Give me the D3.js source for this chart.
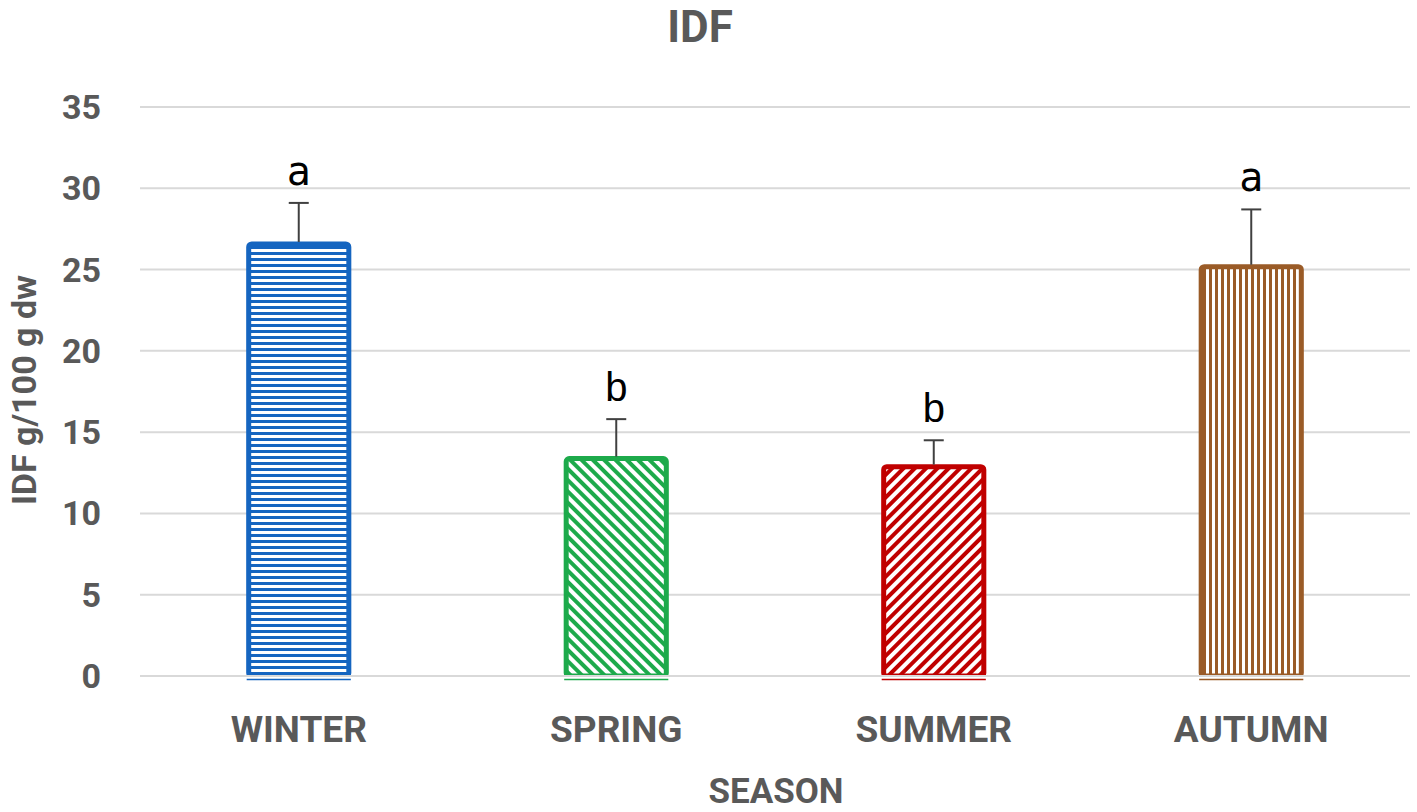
<!DOCTYPE html>
<html>
<head>
<meta charset="utf-8">
<script src="https://cdn.jsdelivr.net/npm/d3@7"></script>
<style>
  body { margin: 0; background: #fff; }
  text { font-family: Roboto, "Liberation Sans", sans-serif; }
</style>
</head>
<body>
<script>
var w = 1417;
var h = 812;

var seasons = ["WINTER", "SPRING", "SUMMER", "AUTUMN"];
var means = [26.7, 13.5, 13.0, 25.3];
var errors = [2.4, 2.3, 1.5, 3.4];
var letters = ["a", "b", "b", "a"];
var colors = ["#1565c0", "#1daa4b", "#c00000", "#9a5b27"];
var yTicks = [0, 5, 10, 15, 20, 25, 30, 35];

var margin = { top: 107, right: 7, bottom: 136, left: 140 };

var xScale = d3
  .scaleBand()
  .domain(seasons)
  .range([margin.left, w - margin.right])
  .paddingInner(0.672)
  .paddingOuter(0.336);

var yScale = d3
  .scaleLinear()
  .domain([0, 35])
  .range([h - margin.bottom, margin.top]);

var svg = d3.select("body").append("svg").attr("width", w).attr("height", h);

//Patterns
var defs = svg.append("defs");
function stripePattern(id, color, size, angle, lineW) {
  var p = defs
    .append("pattern")
    .attr("id", id)
    .attr("patternUnits", "userSpaceOnUse")
    .attr("width", size)
    .attr("height", size)
    .attr("patternTransform", "rotate(" + angle + ")");
  p.append("rect").attr("width", size).attr("height", size).attr("fill", "#fff");
  p.append("rect").attr("width", size).attr("height", lineW).attr("fill", color);
}
stripePattern("p0", colors[0], 6, 0, 3);
stripePattern("p1", colors[1], 8, 45, 4);
stripePattern("p2", colors[2], 8, -45, 4);
stripePattern("p3", colors[3], 6, 90, 3);

//Gridlines
svg
  .selectAll("line.grid")
  .data(yTicks)
  .enter()
  .append("line")
  .attr("class", "grid")
  .attr("x1", margin.left)
  .attr("x2", w - margin.right)
  .attr("y1", function (d) { return yScale(d); })
  .attr("y2", function (d) { return yScale(d); })
  .attr("stroke", "#d9d9d9")
  .attr("stroke-width", 2);

//Y tick labels
svg
  .selectAll("text.ytick")
  .data(yTicks)
  .enter()
  .append("text")
  .attr("class", "ytick")
  .attr("x", 101)
  .attr("y", function (d) { return yScale(d) + 12; })
  .attr("text-anchor", "end")
  .attr("font-size", "34px")
  .attr("font-weight", "bold")
  .attr("fill", "#595959")
  .text(function (d) { return d; });

//Bars
svg
  .selectAll("rect.bar")
  .data(seasons)
  .enter()
  .append("rect")
  .attr("class", "bar")
  .attr("x", function (d) { return xScale(d) + 2; })
  .attr("y", function (d, i) { return yScale(means[i]) + 2; })
  .attr("width", xScale.bandwidth() - 4)
  .attr("height", function (d, i) { return yScale(0) - yScale(means[i]) - 2; })
  .attr("rx", 3)
  .attr("fill", function (d, i) { return "url(#p" + i + ")"; })
  .attr("stroke", function (d, i) { return colors[i]; })
  .attr("stroke-width", 5);

//Baseline under bars
svg
  .selectAll("line.base")
  .data(seasons)
  .enter()
  .append("line")
  .attr("x1", function (d) { return xScale(d); })
  .attr("x2", function (d) { return xScale(d) + xScale.bandwidth(); })
  .attr("y1", yScale(0) + 2)
  .attr("y2", yScale(0) + 2)
  .attr("stroke", "#fff")
  .attr("stroke-width", 3);
svg
  .append("line")
  .attr("x1", margin.left)
  .attr("x2", w - margin.right)
  .attr("y1", yScale(0))
  .attr("y2", yScale(0))
  .attr("stroke", "#d9d9d9")
  .attr("stroke-width", 2);
svg
  .selectAll("line.base2")
  .data(seasons)
  .enter()
  .append("line")
  .attr("x1", function (d) { return xScale(d); })
  .attr("x2", function (d) { return xScale(d) + xScale.bandwidth(); })
  .attr("y1", yScale(0) + 3.5)
  .attr("y2", yScale(0) + 3.5)
  .attr("stroke", function (d, i) { return colors[i]; })
  .attr("stroke-width", 1.5);

//Error bars
var err = svg.selectAll("g.err").data(seasons).enter().append("g");
err
  .append("line")
  .attr("x1", function (d) { return xScale(d) + xScale.bandwidth() / 2; })
  .attr("x2", function (d) { return xScale(d) + xScale.bandwidth() / 2; })
  .attr("y1", function (d, i) { return yScale(means[i]); })
  .attr("y2", function (d, i) { return yScale(means[i] + errors[i]); })
  .attr("stroke", "#404040")
  .attr("stroke-width", 2);
err
  .append("line")
  .attr("x1", function (d) { return xScale(d) + xScale.bandwidth() / 2 - 10; })
  .attr("x2", function (d) { return xScale(d) + xScale.bandwidth() / 2 + 10; })
  .attr("y1", function (d, i) { return yScale(means[i] + errors[i]); })
  .attr("y2", function (d, i) { return yScale(means[i] + errors[i]); })
  .attr("stroke", "#404040")
  .attr("stroke-width", 2);

//Letters
svg
  .selectAll("text.letter")
  .data(seasons)
  .enter()
  .append("text")
  .attr("x", function (d) { return xScale(d) + xScale.bandwidth() / 2; })
  .attr("y", function (d, i) { return yScale(means[i] + errors[i]) - 18; })
  .attr("text-anchor", "middle")
  .attr("font-size", "40px")
  .attr("fill", "#000")
  .style("font-family", function (d, i) {
    return letters[i] == "a" ? "'DejaVu Sans Mono', monospace" : "'Liberation Sans', sans-serif";
  })
  .text(function (d, i) { return letters[i]; });

//X labels
svg
  .selectAll("text.xlab")
  .data(seasons)
  .enter()
  .append("text")
  .attr("x", function (d) { return xScale(d) + xScale.bandwidth() / 2; })
  .attr("y", 742)
  .attr("text-anchor", "middle")
  .attr("font-size", "37px")
  .attr("font-weight", "bold")
  .attr("fill", "#595959")
  .text(function (d) { return d; });

//Titles
svg
  .append("text")
  .attr("x", 700)
  .attr("y", 42)
  .attr("text-anchor", "middle")
  .attr("font-size", "44px")
  .attr("font-weight", "bold")
  .attr("fill", "#595959")
  .text("IDF");

svg
  .append("text")
  .attr("x", 776)
  .attr("y", 803)
  .attr("text-anchor", "middle")
  .attr("font-size", "35px")
  .attr("font-weight", "bold")
  .attr("fill", "#595959")
  .text("SEASON");

svg
  .append("text")
  .attr("transform", "translate(36," + 390 + ") rotate(-90)")
  .attr("text-anchor", "middle")
  .attr("font-size", "34px")
  .attr("font-weight", "bold")
  .attr("fill", "#595959")
  .text("IDF g/100 g dw");
</script>
</body>
</html>
